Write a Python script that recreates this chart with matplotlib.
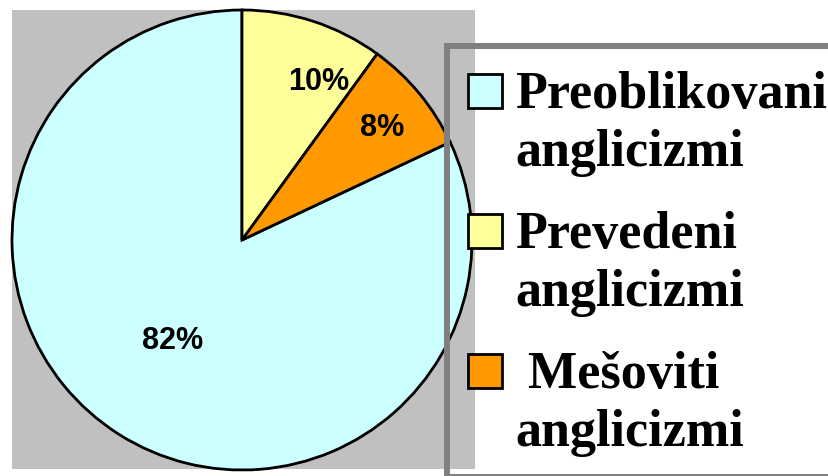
import numpy as np
import matplotlib.pyplot as plt
from matplotlib.patches import Rectangle

# podaci: udio anglicizama po tipu
kategorije = ['Preoblikovani\nanglicizmi', 'Prevedeni\nanglicizmi', ' Mešoviti\nanglicizmi']
postoci = [82, 10, 8]
boje = ['#CCFFFF', '#FFFF99', '#FF9900']

W, H = 829, 476
fig = plt.figure(figsize=(W / 100, H / 100), dpi=100)


def px(x, y):
    # pikseli slike (od gornjeg lijevog kuta) -> koordinate figure
    return x / W, 1 - y / H


# sivo polje iza pite
x0, y1 = px(12, 10)
x1, y0 = px(475, 469)
fig.patches.append(Rectangle((x0, y0), x1 - x0, y1 - y0, transform=fig.transFigure,
                             facecolor='#C0C0C0', edgecolor='none', zorder=-1))

# pita: centar (242, 240), radijus 230 px
cx, cy, r = 242, 240, 230
l, b = px(cx - r, cy + r)
ax = fig.add_axes([l, b, 2 * r / W, 2 * r / H])
ax.patch.set_visible(False)
start = 90 + 360 * postoci[0] / sum(postoci)
wedges, _, auto = ax.pie(postoci, colors=boje, startangle=start, counterclock=False,
                         radius=1, autopct='%d%%',
                         wedgeprops=dict(edgecolor='black', linewidth=2.0),
                         textprops=dict(family='Liberation Sans', weight='bold', fontsize=22))
ax.set_xlim(-1, 1)
ax.set_ylim(-1, 1)
ax.axis('off')
for w in wedges:
    w.set_clip_on(False)

# položaj oznaka kao u originalu (Excel)
lab_r = [0.52, 0.775, 0.79]
lab_dang = [-3.1, -7.4, -0.3]
for w, t, rr, da in zip(wedges, auto, lab_r, lab_dang):
    ang = np.deg2rad((w.theta1 + w.theta2) / 2 + da)
    t.set_position((rr * np.cos(ang), rr * np.sin(ang)))
    t.set_va('center_baseline')

# legenda (okvir bez ispune)
fx0, fy1 = px(447, 46)
fx1, fy0 = px(835, 477)
fig.patches.append(Rectangle((fx0, fy0), fx1 - fx0, fy1 - fy0, transform=fig.transFigure,
                             facecolor='none', edgecolor='#808080', linewidth=4.3, zorder=5))

kv = 34
vrh = [74, 214, 354]
for i, (lab, c) in enumerate(zip(kategorije, boje)):
    sx, sy = px(468, vrh[i] + kv)
    fig.patches.append(Rectangle((sx, sy), kv / W, kv / H, transform=fig.transFigure,
                                 facecolor=c, edgecolor='black', linewidth=2.0, zorder=6))
    redovi = lab.split('\n')
    for j, red in enumerate(redovi):
        tx, ty = px(515, vrh[i] + 34 + j * 58)
        fig.text(tx, ty, red, family='Liberation Serif', weight='bold', fontsize=37.5,
                 va='baseline', ha='left', zorder=7)

fig.savefig('out.png', dpi=100)
